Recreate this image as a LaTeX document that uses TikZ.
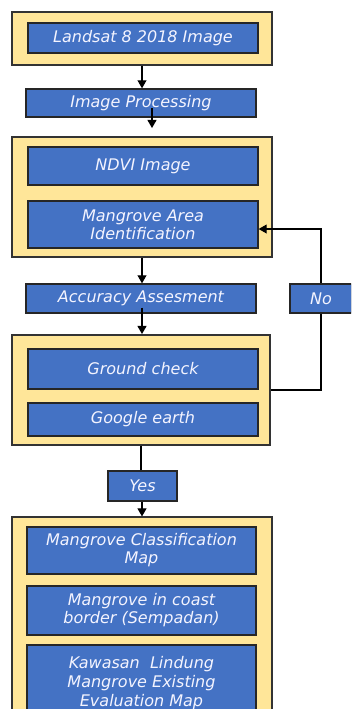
\documentclass[tikz,border=0pt]{standalone}
\usepackage{fontspec}
\setmainfont{DejaVu Sans}
\usetikzlibrary{
  positioning,
  arrows
}
\definecolor{panelfill}{HTML}{FFE699}
\definecolor{procfill}{HTML}{4472C4}
\definecolor{proctext}{HTML}{F4F4FF}

\begin{document}
\begin{tikzpicture}[
    x=1pt, y=-1pt, >=triangle 60, line width=1.2pt,
    panel/.style={
      rectangle,
      draw=black!80,
      fill=panelfill,
      line width=1.2pt,
      inner sep=0pt,
      minimum width=260pt
    },
    proc/.style={
      rectangle,
      draw=black!85,
      fill=procfill,
      line width=1.4pt,
      text=proctext,
      align=center,
      inner sep=0pt,
      minimum width=230pt,
      font=\fontsize{16}{18}\selectfont\itshape
    }
  ]
  \useasboundingbox (0,0) rectangle (351,709);
  \clip (0,0) rectangle (351,709);

  \begin{scope}
    % input
    \node[panel, minimum height=53pt] (frameA) at (142,38.5) {};
    \node[proc, minimum height=30pt] (landsat) at (143,38) {Landsat 8 2018 Image};

    \node[proc, minimum height=28pt] (procBox) at (141,103) {Image Processing};

    % classification
    \node[panel, minimum height=120pt] (frameB) at (142,197) {};
    \node[proc, minimum height=38pt] (ndvi) at (143,166) {NDVI Image};
    \node[proc, minimum height=47pt] (mai) at (143,224.5) {Mangrove Area\\Identification};

    \node[proc, minimum height=29pt] (acc) at (141,298.5) {Accuracy Assesment};
    \node[proc, minimum width=62pt, minimum height=29pt] (no) at (321,298.5) {No};

    % validation
    \node[panel, minimum width=258pt, minimum height=110pt] (frameC) at (141,390) {};
    \node[proc, minimum height=40pt] (ground) at (143,369) {Ground check};
    \node[proc, minimum height=33pt] (google) at (143,419.5) {Google earth};

    \node[proc, minimum width=69pt, minimum height=30pt] (yes) at (142.5,486) {Yes};

    % output
    \node[panel, minimum height=243pt] (frameD) at (142,638.5) {};
    \node[proc, minimum width=229pt, minimum height=47pt] (classmap) at (141.5,550.5) {Mangrove Classification\\Map};
    \node[proc, minimum width=229pt, minimum height=49pt] (coast) at (141.5,610.5) {Mangrove in coast\\border (Sempadan)};
    \node[proc, minimum width=229pt, minimum height=76pt, font=\fontsize{16}{19}\selectfont\itshape] (kawasan) at (141.5,683) {Kawasan~ Lindung\\Mangrove Existing\\Evaluation Map};

    \coordinate (procEnd) at (152,128);
    \coordinate (accEnd) at (142,334);

    \draw[->] (frameA.south) -- (frameA.south |- procBox.north);
    \draw[->] ([yshift=-5pt]procBox.center -| procEnd) -- (procEnd);
    \draw[->] (frameB.south) -- (frameB.south |- acc.north);
    \draw[->] ([yshift=6pt]acc.south -| accEnd) -- (accEnd);
    \draw[->] (no.north) |- ([yshift=-4.5pt]mai.east);
    \draw (no.south) |- (frameC.east);
    \draw (frameC.south) -- (frameC.south |- yes.north);
    \draw[->] (yes.south -| frameD.north) -- (frameD.north);
  \end{scope}
\end{tikzpicture}
\end{document}
